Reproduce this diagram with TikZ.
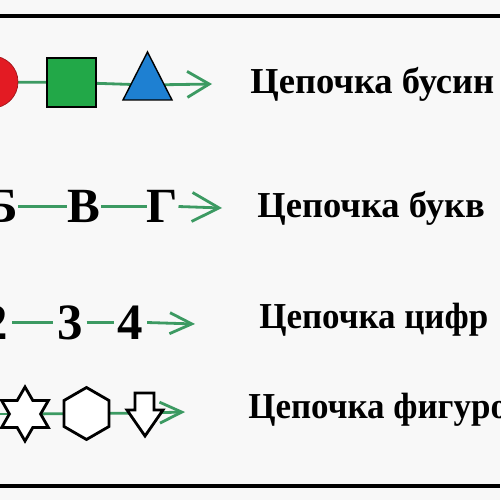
\documentclass[tikz,border=0pt]{standalone}
\usepackage{fontspec}
\usepackage{graphicx}
\setmainfont{Liberation Serif}
\usetikzlibrary{shapes.geometric,arrows.meta}
\pgfdeclarelayer{bg}
\pgfdeclarelayer{paperlayer}
\pgfsetlayers{paperlayer,bg,main}
\definecolor{chaingreen}{HTML}{3C9A62}
\definecolor{beadred}{HTML}{E31B23}
\definecolor{sqgreen}{HTML}{22A848}
\definecolor{triblue}{HTML}{1E80D2}
\definecolor{paper}{HTML}{F8F8F8}
\begin{document}
\begin{tikzpicture}[x=0.02cm,y=-0.02cm,
  link/.style={draw=chaingreen, line width=1.6pt},
  endtip/.style={-{Straight Barb[length=0.44cm,width=0.52cm]}},
  endtipb/.style={-{Straight Barb[length=0.54cm,width=0.58cm]}},
  endtipc/.style={-{Straight Barb[length=0.44cm,width=0.42cm]}},
  chaintext/.style={font=\bfseries\fontsize{20.8}{24}\selectfont, anchor=base west, inner sep=0},
  glyph/.style={font=\bfseries\fontsize{28}{32}\selectfont, inner sep=0},
  digit/.style={font=\bfseries\fontsize{29}{32}\selectfont, inner ysep=0, inner xsep=0.07cm},
  outline/.style={draw=black, fill=white, line width=1.6pt}
]
\useasboundingbox (0,0) rectangle (500,500);
\begin{pgfonlayer}{paperlayer}
\fill[paper] (0,0) rectangle (500,500);
\end{pgfonlayer}
\draw[line width=2pt] (0,16) -- (500,16);
\draw[line width=2.2pt] (0,486) -- (500,486);

% row 1: beads
\node[circle, fill=beadred, draw=beadred!70!black, minimum size=1.04cm, inner sep=0] (c1) at (-8,82) {};
\node[rectangle, fill=sqgreen, draw=black, line width=0.8pt, minimum width=0.98cm, minimum height=0.98cm, inner sep=0] (s1) at (71.5,82.5) {};
\node[isosceles triangle, shape border rotate=90, isosceles triangle stretches, minimum width=0.98cm, minimum height=0.96cm, fill=triblue, draw=black, line width=0.8pt, inner sep=0] (t1) at (147.5,85) {};
\coordinate (e1) at (212,84);
\begin{pgfonlayer}{bg}
\draw[link] (c1.center) -- (s1.center);
\draw[link] (s1.center) -- (t1.center);
\draw[link,endtip] (t1.center) -- (e1);
\end{pgfonlayer}
\node[chaintext] (l1) at (250,93) {Цепочка бусин};

% row 2: letters
\node[glyph, anchor=east] (b2) at (18,206.5) {Б};
\node[glyph] (v2) at (84,206.5) {В};
\node[glyph] (g2) at (162.5,206.5) {Г};
\coordinate (e2) at (222,208);
\draw[link] (b2.east) -- (v2.west);
\draw[link] (v2.east) -- (g2.west);
\draw[link,endtipb] (g2.east) -- (e2);
\node[chaintext] (l2) at (257,217) {Цепочка букв};

% row 3: digits
\node[digit, anchor=east] (d2) at (12,322.5) {2};
\node[digit] (d3) at (70,322.5) {3};
\node[digit] (d4) at (130.5,322.5) {4};
\coordinate (e3) at (195,324);
\draw[link] (d2.east) -- (d3.west);
\draw[link] (d3.east) -- (d4.west);
\draw[link,endtipc] (d4.east) -- (e3);
\node[chaintext] (l3) at (259,328) {\scalebox{0.957}[1]{Цепочка цифр}};

% row 4: figures
\coordinate (s4) at (-5,414);
\node[star, star points=6, star point ratio=1.73, minimum size=1.08cm, inner sep=0, outline] (st) at (25,414) {};
\node[regular polygon, regular polygon sides=6, shape border rotate=30, minimum size=1.04cm, inner sep=0, outline] (hx) at (86.5,413.5) {};
\draw[outline] (135,393) -- (154,393) -- (154,410) -- (163,410) -- (145,436) -- (127,410) -- (135,410) -- cycle;
\coordinate (da) at (145,413);
\coordinate (e4) at (185,412);
\begin{pgfonlayer}{bg}
\draw[link] (s4) -- (st.center);
\draw[link] (st.center) -- (hx.center);
\draw[link] (hx.center) -- (da);
\draw[link,endtipc] (da) -- (e4);
\end{pgfonlayer}
\node[chaintext] (l4) at (248,418) {\scalebox{0.957}[1]{Цепочка фигуро}};
\end{tikzpicture}
\end{document}
